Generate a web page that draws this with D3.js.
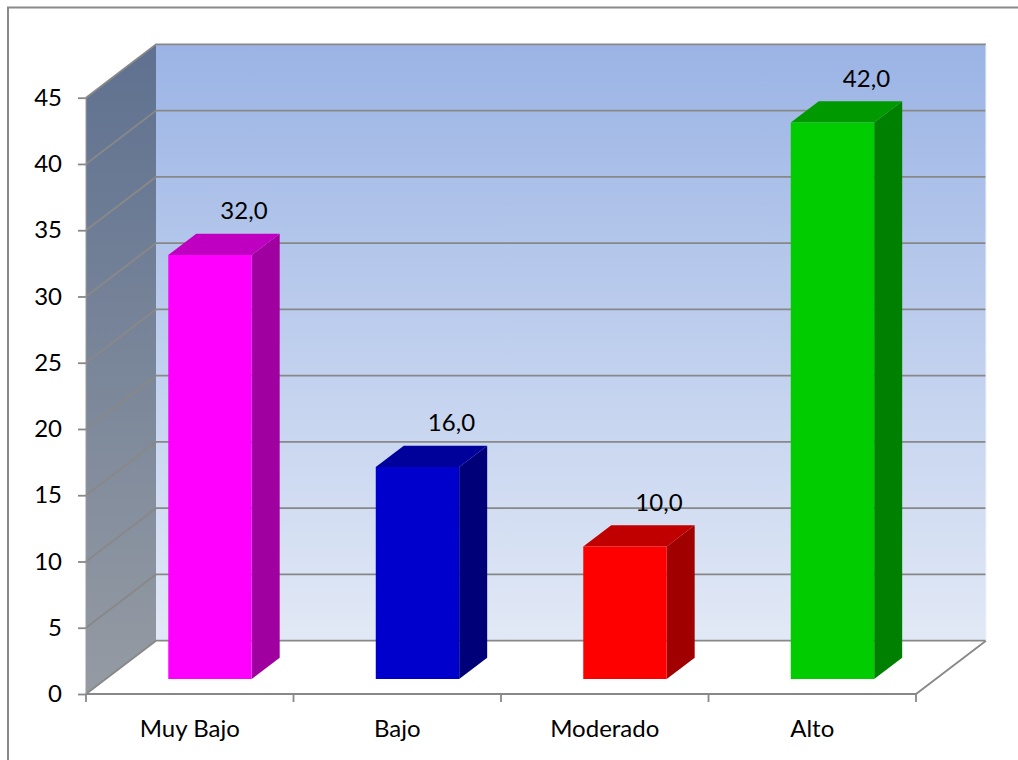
<!DOCTYPE html>
<html><head><meta charset="utf-8">
<script src="https://cdn.jsdelivr.net/npm/d3@7"></script>
<style>
html,body{margin:0;padding:0;background:#fff;}
svg text{font-family:Lato,"Noto Sans",sans-serif;fill:#000;}
</style></head>
<body>
<svg id="chart" width="1018" height="760"></svg>
<script>
const categories = ["Muy Bajo", "Bajo", "Moderado", "Alto"];
const values = [32.0, 16.0, 10.0, 42.0];
const frontColors = ["#ff00ff", "#0000cc", "#ff0000", "#00cc00"];
const topColors = ["#c000c0", "#00009a", "#c00000", "#009a00"];
const sideColors = ["#a000a0", "#000078", "#a00000", "#008000"];
const yTicks = [0, 5, 10, 15, 20, 25, 30, 35, 40, 45];

const svg = d3.select("#chart");
const W = 1018, H = 760;
const x0 = 86, x1 = 916, yBase = 694, yTop = 97.7;
const DX = 70, DY = -53.3; // depth offset
const fFront = 0.28, fBack = 0.68;

const x = d3.scaleBand().domain(categories).range([x0, x1]).padding(0);
const y = d3.scaleLinear().domain([0, 45]).range([yBase, yTop]);
const off = f => [DX * f, DY * f];

const defs = svg.append("defs");
const gBack = defs.append("linearGradient").attr("id", "gBack")
  .attr("gradientUnits", "userSpaceOnUse").attr("x1", 0).attr("x2", 0)
  .attr("y1", y(45) + DY).attr("y2", y(0) + DY);
gBack.append("stop").attr("offset", 0).attr("stop-color", "#9bb4e5");
gBack.append("stop").attr("offset", 1).attr("stop-color", "#e2e9f6");
const gLeft = defs.append("linearGradient").attr("id", "gLeft")
  .attr("gradientUnits", "userSpaceOnUse").attr("x1", 0).attr("x2", 0)
  .attr("y1", y(45) + DY).attr("y2", y(0));
gLeft.append("stop").attr("offset", 0).attr("stop-color", "#5f7190");
gLeft.append("stop").attr("offset", 1).attr("stop-color", "#959ba3");

// frame
svg.append("path").attr("d", `M${8},${H} L8,7.5 L${W},7.5`)
  .attr("fill", "none").attr("stroke", "#8a8a8a").attr("stroke-width", 2);

const pt = (xx, yy, f) => [xx + off(f)[0], yy + off(f)[1]];
const poly = pts => "M" + pts.map(p => p.join(",")).join("L") + "Z";

// back wall
svg.append("path").attr("d", poly([pt(x0, y(45), 1), pt(x1, y(45), 1), pt(x1, y(0), 1), pt(x0, y(0), 1)]))
  .attr("fill", "url(#gBack)");
// left wall
svg.append("path").attr("d", poly([pt(x0, y(0), 0), pt(x0, y(45), 0), pt(x0, y(45), 1), pt(x0, y(0), 1)]))
  .attr("fill", "url(#gLeft)");
// floor
svg.append("path").attr("d", poly([pt(x0, y(0), 0), pt(x1, y(0), 0), pt(x1, y(0), 1), pt(x0, y(0), 1)]))
  .attr("fill", "#ffffff");

// gridlines
const grid = svg.append("g").attr("stroke", "#888888").attr("stroke-width", 1.8).attr("fill", "none");
yTicks.forEach(v => {
  const a = pt(x0, y(v), 0), b = pt(x0, y(v), 1), c = pt(x1, y(v), 1);
  grid.append("path").attr("d", `M${a}L${b}L${c}`);
});
// floor edges
grid.append("path").attr("d", `M${pt(x0, y(0), 0)}L${pt(x1, y(0), 0)}L${pt(x1, y(0), 1)}`);
// wall right edge light
svg.append("line").attr("x1", x1 + DX).attr("x2", x1 + DX)
  .attr("y1", y(45) + DY).attr("y2", y(0) + DY).attr("stroke", "#eef2fa").attr("stroke-width", 1);

// y axis
svg.append("line").attr("x1", x0).attr("x2", x0).attr("y1", y(0)).attr("y2", y(45))
  .attr("stroke", "#9a9a9a").attr("stroke-width", 1);
const yAxis = d3.axisLeft(y).tickValues(yTicks).tickSize(8).tickPadding(16).tickFormat(d3.format("d"));
const ya = svg.append("g").attr("transform", `translate(${x0},0)`).call(yAxis);
ya.select(".domain").remove();
ya.selectAll(".tick line").attr("stroke", "#888888").attr("stroke-width", 1.8);
ya.selectAll(".tick text").style("font-size", "24px").style("font-family", "Lato,'Noto Sans',sans-serif");

// x axis
const xAxis = d3.axisBottom(x).tickSize(0).tickPadding(26);
const xa = svg.append("g").attr("transform", `translate(0,${yBase})`).call(xAxis);
xa.select(".domain").remove();
xa.selectAll(".tick text").style("font-size", "24px").style("font-family", "Lato,'Noto Sans',sans-serif");
const bounds = categories.map(c => x(c)).concat([x1]);
svg.append("g").selectAll("line").data(bounds).join("line")
  .attr("x1", d => d).attr("x2", d => d).attr("y1", yBase).attr("y2", yBase + 8)
  .attr("stroke", "#888888").attr("stroke-width", 1.8);

// bars
const bw = x.bandwidth() * 0.402;
const bars = svg.append("g");
categories.forEach((c, i) => {
  const xl = x(c) + x.bandwidth() * 0.302, xr = xl + bw;
  const yv = y(values[i]), y0 = y(0);
  const g = bars.append("g");
  g.append("path").attr("d", poly([pt(xr, y0, fFront), pt(xr, yv, fFront), pt(xr, yv, fBack), pt(xr, y0, fBack)]))
    .attr("fill", sideColors[i]);
  g.append("path").attr("d", poly([pt(xl, yv, fFront), pt(xr, yv, fFront), pt(xr, yv, fBack), pt(xl, yv, fBack)]))
    .attr("fill", topColors[i]);
  g.append("path").attr("d", poly([pt(xl, y0, fFront), pt(xl, yv, fFront), pt(xr, yv, fFront), pt(xr, y0, fFront)]))
    .attr("fill", frontColors[i]);
  const lp = pt((xl + xr) / 2 + 6, yv, fBack);
  svg.append("text").attr("x", lp[0]).attr("y", lp[1] - 24)
    .attr("text-anchor", "middle").attr("dominant-baseline", "central")
    .style("font-size", "24px").text(d3.format(".1f")(values[i]).replace(".", ","));
});
</script>
</body></html>
